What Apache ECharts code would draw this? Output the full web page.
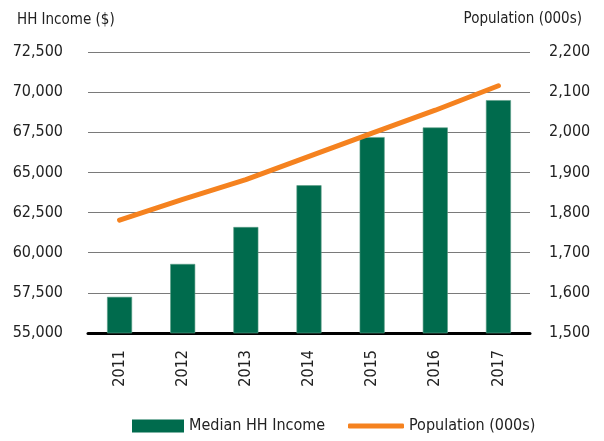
<!DOCTYPE html>
<html>
<head>
<meta charset="utf-8">
<script src="https://cdn.jsdelivr.net/npm/echarts@6/dist/echarts.min.js"></script>
<style>html,body{margin:0;padding:0;background:#fff}#c{width:604px;height:441px}</style>
</head>
<body>
<div id="c"></div>
<script>
var years = ['2011','2012','2013','2014','2015','2016','2017'];
var income = [57250, 59300, 61600, 64200, 67200, 67800, 69500];
var population = [1781, 1833, 1882, 1940, 1998, 2055, 2116];
var FONT = "'Liberation Sans Narrow', 'DejaVu Sans Condensed', sans-serif";
var chart = echarts.init(document.getElementById('c'));
chart.setOption({
  animation: false,
  textStyle: { fontFamily: FONT },
  grid: { left: 88, right: 74, top: 52, bottom: 108, containLabel: false },
  graphic: [
    { type: 'text', left: 17, top: 13, style: { text: 'HH Income ($)', font: '15px ' + FONT, fill: '#222' } },
    { type: 'text', right: 22, top: 12, style: { text: 'Population (000s)', font: '15px ' + FONT, fill: '#222' } }
  ],
  legend: [
    {
      bottom: 7, left: 132, padding: 0, itemWidth: 52, itemHeight: 13,
      itemStyle: { borderWidth: 0 },
      textStyle: { fontFamily: FONT, fontSize: 16, color: '#222' },
      data: [{ name: 'Median HH Income', icon: 'rect' }]
    },
    {
      bottom: 7, left: 348, padding: 0, itemWidth: 56, itemHeight: 5,
      textStyle: { fontFamily: FONT, fontSize: 16, color: '#222' },
      data: [{ name: 'Population (000s)', icon: 'roundRect' }]
    }
  ],
  xAxis: {
    type: 'category', data: years,
    axisLine: { lineStyle: { color: '#000', width: 3 } },
    axisTick: { show: false },
    axisLabel: { rotate: 90, margin: 17, fontSize: 16, color: '#222', fontFamily: FONT }
  },
  yAxis: [
    {
      type: 'value', min: 55000, max: 72500, interval: 2500,
      axisLine: { show: false }, axisTick: { show: false },
      splitLine: { lineStyle: { color: '#7a7a7a', width: 1 } },
      axisLabel: { margin: 25, fontSize: 16, color: '#222', fontFamily: FONT,
        formatter: function (v) { return v.toLocaleString('en-US'); } }
    },
    {
      type: 'value', min: 1500, max: 2200, interval: 100,
      axisLine: { show: false }, axisTick: { show: false },
      splitLine: { show: false },
      axisLabel: { margin: 19, fontSize: 16, color: '#222', fontFamily: FONT,
        formatter: function (v) { return v.toLocaleString('en-US'); } }
    }
  ],
  series: [
    {
      name: 'Median HH Income', type: 'bar', data: income, barWidth: 25,
      itemStyle: { color: '#006B4D', borderColor: '#5a9e86', borderWidth: 0.6 }
    },
    {
      name: 'Population (000s)', type: 'line', yAxisIndex: 1, data: population,
      symbol: 'none', smooth: false,
      lineStyle: { color: '#F5821F', width: 5, cap: 'round' },
      itemStyle: { color: '#F5821F' }
    }
  ]
});
</script>
</body>
</html>
